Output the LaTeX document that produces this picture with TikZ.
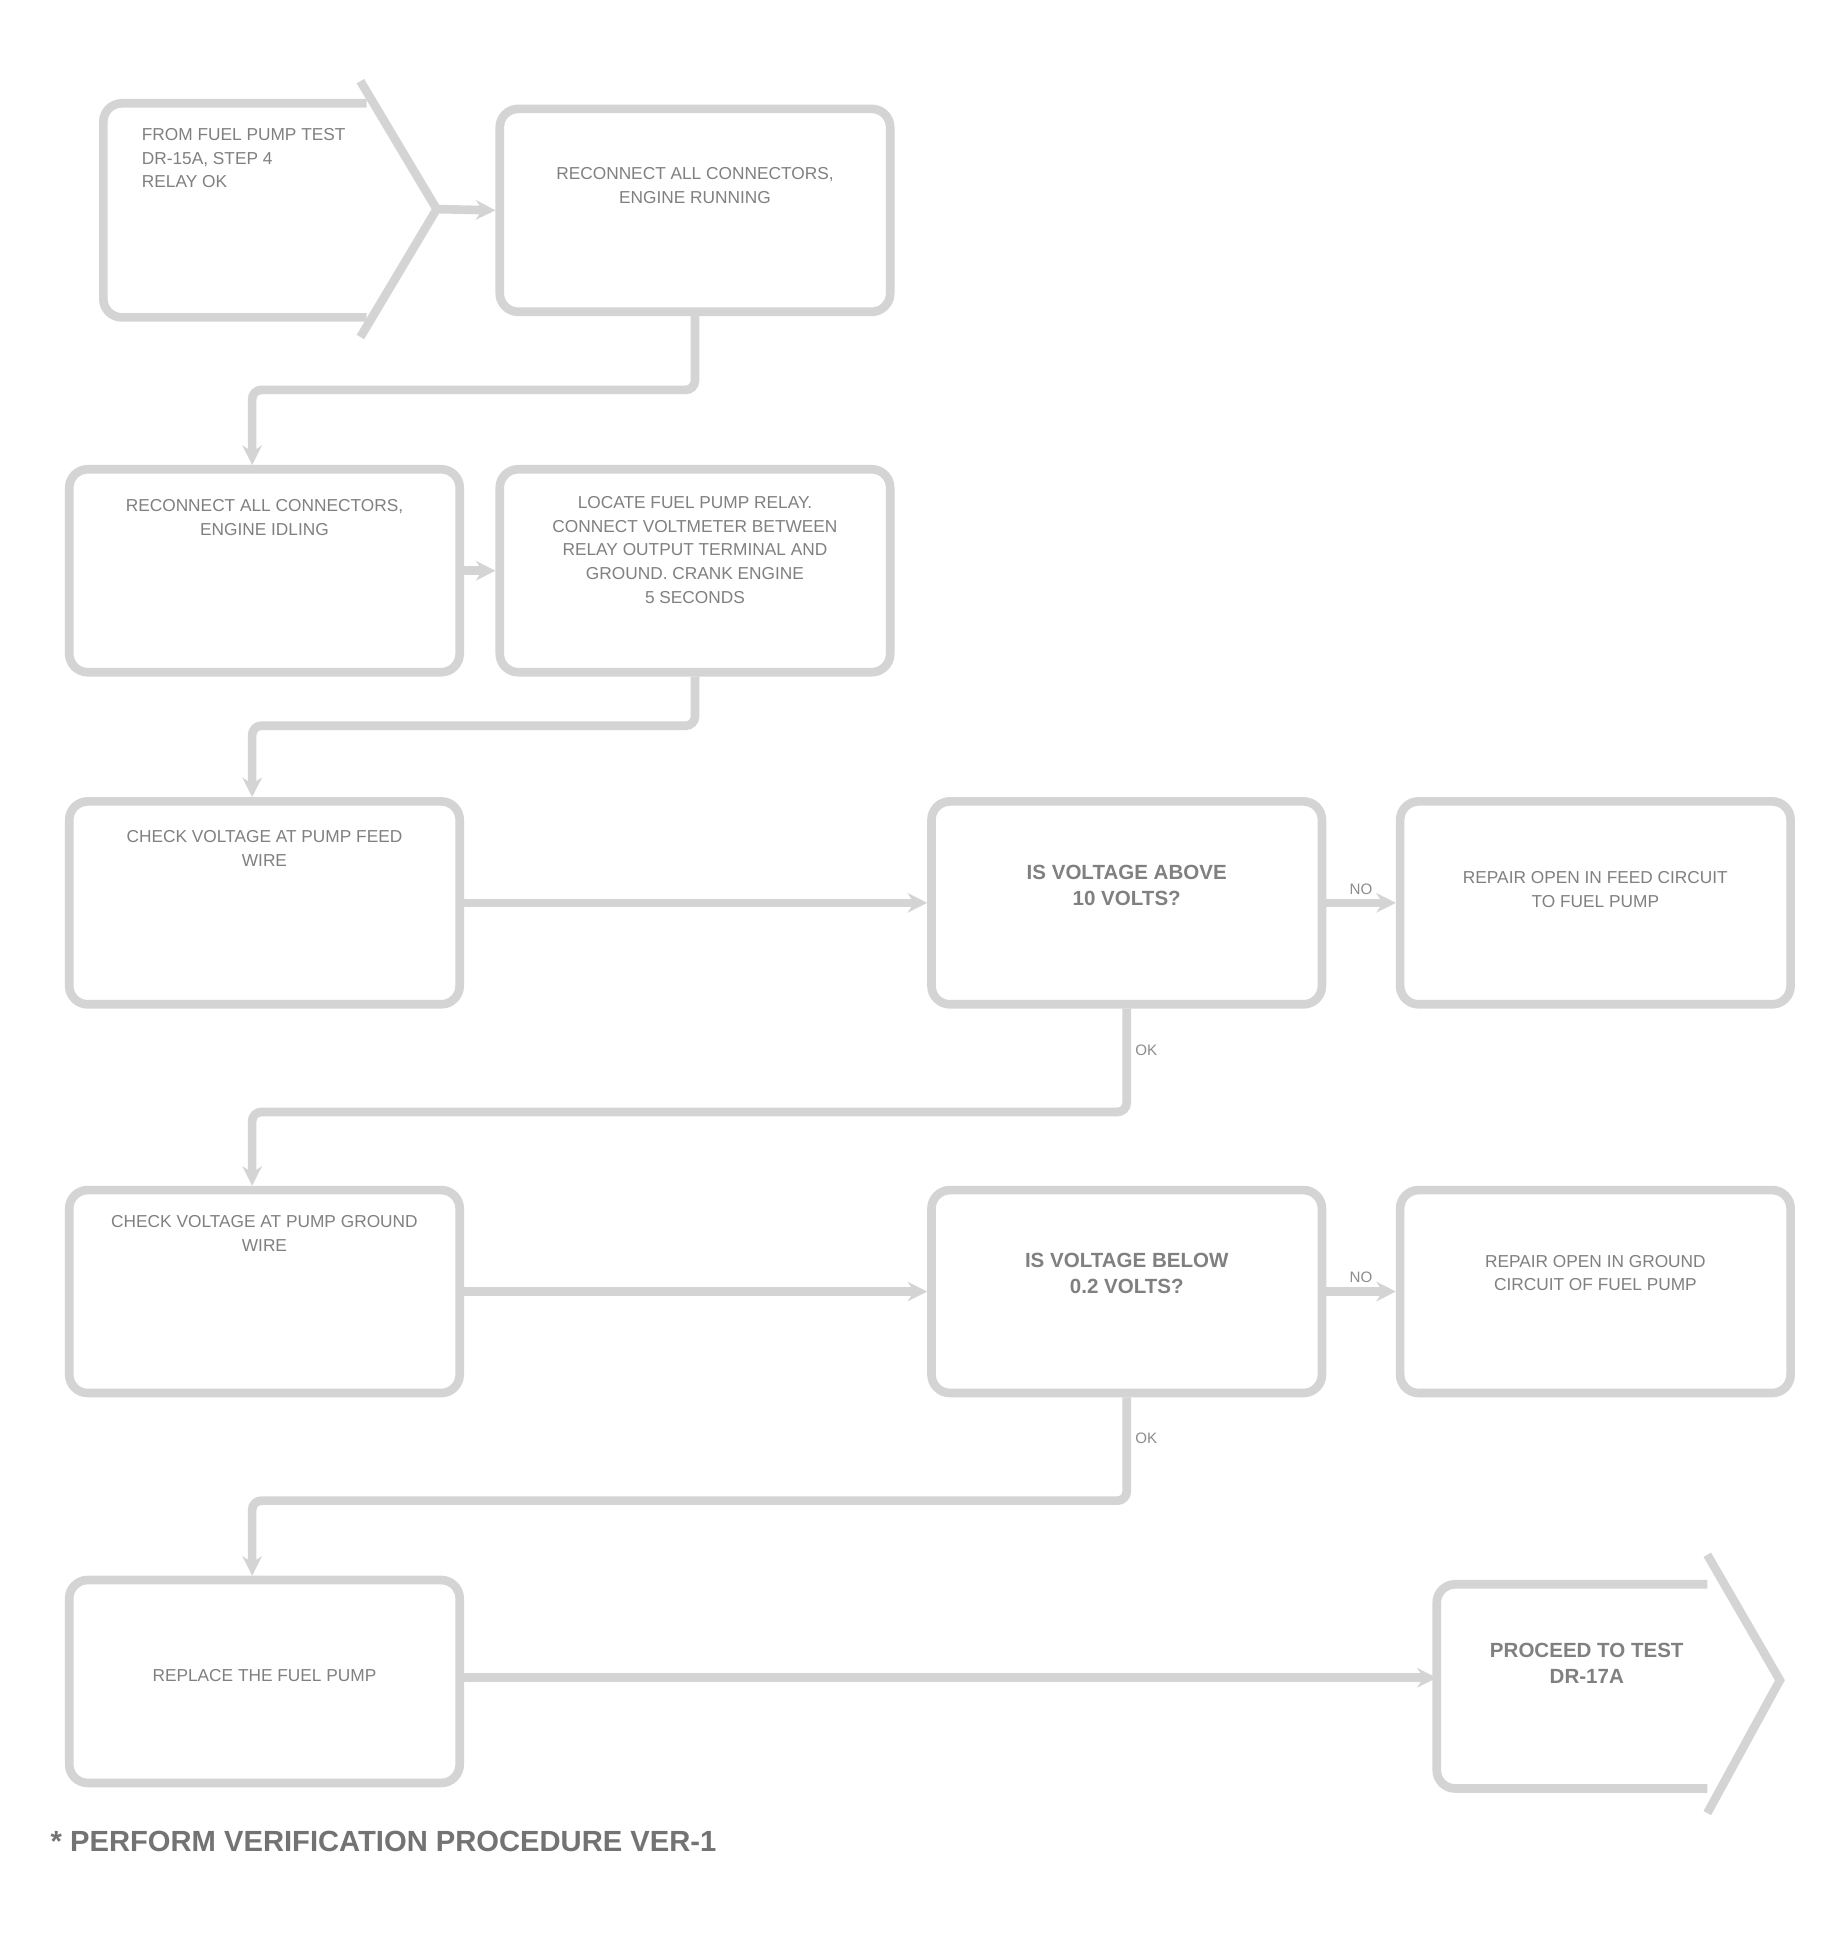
\documentclass[tikz,border=0pt]{standalone}
\usepackage{fontspec}
\setsansfont{Liberation Sans}
\usepackage{tikz}
\usetikzlibrary{positioning,arrows.meta}

\begin{document}
\begin{tikzpicture}[x=0.02cm, y=-0.02cm, font=\sffamily,
StepBox/.style={draw=black!17, line width=4pt, rounded corners=0.3cm, minimum width=6.35cm, minimum height=3.3cm, inner sep=0pt},
StepText/.style={text=black!50, align=center, inner sep=0pt, font=\sffamily\fontsize{8}{11}\selectfont},
QuestionText/.style={StepText, font=\sffamily\bfseries\fontsize{9.5}{12}\selectfont},
FlowLine/.style={draw=black!17, line width=4pt, rounded corners=0.15cm},
FlowArrow/.style={FlowLine, -{Stealth[length=9pt, width=9pt]}},
Answer/.style={text=black!45, inner sep=2pt, font=\sffamily\fontsize{7}{8}\selectfont}]
\useasboundingbox (0,0) rectangle (1500,1578);
\fill[white] (0,0) rectangle (1500,1578);
% step boxes: name / x / y / text y / text style / text
\foreach \name/\x/\y/\ty/\sty/\txt in {
  Reconnect/565/171/151/StepText/{RECONNECT ALL CONNECTORS,\\ ENGINE RUNNING},
  Idle/215/464/421/StepText/{RECONNECT ALL CONNECTORS,\\ ENGINE IDLING},
  LocateRelay/565/464/447/StepText/{LOCATE FUEL PUMP RELAY.\\ CONNECT VOLTMETER BETWEEN\\ RELAY OUTPUT TERMINAL AND\\ GROUND. CRANK ENGINE\\ 5 SECONDS},
  FeedCheck/215/734/690/StepText/{CHECK VOLTAGE AT PUMP FEED\\ WIRE},
  FeedVolts/916/734/720/QuestionText/{IS VOLTAGE ABOVE\\ 10 VOLTS?},
  FeedRepair/1297/734/723/StepText/{REPAIR OPEN IN FEED CIRCUIT\\ TO FUEL PUMP},
  GroundCheck/215/1050/1003/StepText/{CHECK VOLTAGE AT PUMP GROUND\\ WIRE},
  GroundVolts/916/1050/1035/QuestionText/{IS VOLTAGE BELOW\\ 0.2 VOLTS?},
  GroundRepair/1297/1050/1035/StepText/{REPAIR OPEN IN GROUND\\ CIRCUIT OF FUEL PUMP},
  PumpReplace/215/1367/1362/StepText/{REPLACE THE FUEL PUMP}%
} {
  \node [StepBox] (\name) at (\x, \y) {};
  \node [\sty] (\name Text) at (\x, \ty) {\txt};
}
% entry shape
\draw [FlowLine, rounded corners=0.3cm] (298,84) -- (84,84) -- (84,258) -- (298,258);
\draw [FlowLine, rounded corners=0] (293,66) -- (355,170) -- (293,274);
\coordinate (EntryTip) at (355,170);
\node [StepText, align=left, anchor=north west] (EntryText) at (115,104) {FROM FUEL PUMP TEST\\ DR-15A, STEP 4\\ RELAY OK};
% exit shape
\draw [FlowLine, rounded corners=0.3cm] (1388,1288) -- (1168,1288) -- (1168,1454) -- (1388,1454);
\draw [FlowLine, rounded corners=0] (1388,1264) -- (1447,1366) -- (1388,1474);
\coordinate (ExitIn) at (1168,1364);
\node [QuestionText] (ExitText) at (1290,1352) {PROCEED TO TEST\\ DR-17A};
% connectors
\draw [FlowArrow] (EntryTip) -- (Reconnect.west);
\draw [FlowArrow] (Reconnect.south) -- ++(0,60) -| ([xshift=-0.2cm]Idle.north);
\draw [FlowArrow] (Idle.east) -- (LocateRelay.west);
\draw [FlowArrow] (LocateRelay.south) -- ++(0,40) -| ([xshift=-0.2cm]FeedCheck.north);
\draw [FlowArrow] (FeedCheck.east) -- (FeedVolts.west);
\draw [FlowArrow] (FeedVolts.east) -- node [Answer, above] (FeedNo) {NO} (FeedRepair.west);
\draw [FlowArrow] (FeedVolts.south) -- node [Answer, right, pos=0.4] (FeedOk) {OK} ++(0,84) -| ([xshift=-0.2cm]GroundCheck.north);
\draw [FlowArrow] (GroundCheck.east) -- (GroundVolts.west);
\draw [FlowArrow] (GroundVolts.east) -- node [Answer, above] (GroundNo) {NO} (GroundRepair.west);
\draw [FlowArrow] (GroundVolts.south) -- node [Answer, right, pos=0.4] (GroundOk) {OK} ++(0,84) -| ([xshift=-0.2cm]PumpReplace.north);
\draw [FlowArrow] (PumpReplace.east |- ExitIn) -- (ExitIn);
\node [anchor=west, text=black!55, font=\sffamily\bfseries\fontsize{13.5}{15}\selectfont] (Footnote) at (35,1497) {* PERFORM VERIFICATION PROCEDURE VER-1};
\end{tikzpicture}
\end{document}
